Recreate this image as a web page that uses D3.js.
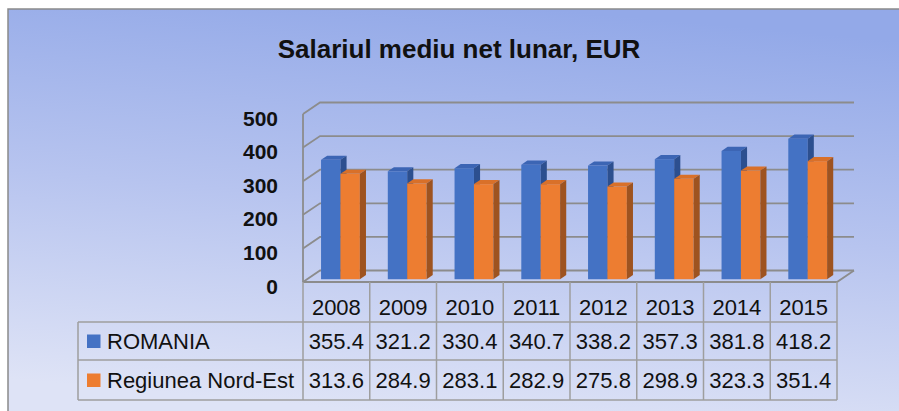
<!DOCTYPE html>
<html>
<head>
<meta charset="utf-8">
<script src="https://cdnjs.cloudflare.com/ajax/libs/d3/7.8.5/d3.min.js"></script>
<style>
body {
    margin: 0;
    background: #fff;
}
svg text {
    font-family: "Liberation Sans", Arial, sans-serif;
    fill: #111;
}
</style>
</head>
<body>
<svg id="chart"></svg>
<script>

const years = ['2008', '2009', '2010', '2011', '2012', '2013', '2014', '2015'];
const romania = [355.4, 321.2, 330.4, 340.7, 338.2, 357.3, 381.8, 418.2];
const nordEst = [313.6, 284.9, 283.1, 282.9, 275.8, 298.9, 323.3, 351.4];
const seriesNames = ['ROMANIA', 'Regiunea Nord-Est'];
const yTicks = [0, 100, 200, 300, 400, 500];

const W = 899, H = 411;
const DX = 17, DY = -11.5;          // depth of the 3d box
const F0 = 0.24, F1 = 0.60;         // bar depth position inside the box

const colors = [
    { front: '#4472C4', top: '#3C65B4', side: '#2C4F8F' },
    { front: '#ED7D31', top: '#D97029', side: '#9E5320' }
];

const svg = d3.select('svg#chart')
    .attr('width', W)
    .attr('height', H);

const defs = svg.append('defs');
const grad = defs.append('linearGradient')
    .attr('id', 'bg')
    .attr('x1', 0.6).attr('y1', 0).attr('x2', 0.4).attr('y2', 1);
grad.append('stop').attr('offset', '0%').attr('stop-color', '#93A9E8');
grad.append('stop').attr('offset', '50%').attr('stop-color', '#B7C4EF');
grad.append('stop').attr('offset', '100%').attr('stop-color', '#DEE3F6');

// chart area
svg.append('rect')
    .attr('x', 8).attr('y', 9)
    .attr('width', W - 8).attr('height', H - 9)
    .attr('fill', 'url(#bg)');
svg.append('path')
    .attr('d', `M8,${H} L8,9 L${W},9`)
    .attr('fill', 'none')
    .attr('stroke', '#8a8a8a')
    .attr('stroke-width', 1.5);

svg.append('text')
    .attr('x', 459).attr('y', 58)
    .attr('text-anchor', 'middle')
    .attr('font-size', 26)
    .attr('font-weight', 'bold')
    .text('Salariul mediu net lunar, EUR');

// scales
const x = d3.scaleBand().domain(years).range([303, 837]);
const inner = d3.scaleBand().domain([0, 1]).range([0, x.bandwidth()]).paddingOuter(0.72);
const y = d3.scaleLinear().domain([0, 500]).range([282, 114]);

const gridG = svg.append('g')
    .attr('fill', 'none')
    .attr('stroke', '#8c8c8c')
    .attr('stroke-width', 1.8);

const x0 = x.range()[0], x1 = x.range()[1];

// back wall gridlines + left wall diagonals
yTicks.forEach(t => {
    gridG.append('path')
        .attr('d', `M${x0},${y(t)} L${x0 + DX},${y(t) + DY} L${x1 + DX},${y(t) + DY}`);
});
// front vertical axis
gridG.append('line')
    .attr('x1', x0).attr('y1', y(0))
    .attr('x2', x0).attr('y2', y(500));
// floor front and right edges
gridG.append('path')
    .attr('d', `M${x0},${y(0)} L${x1},${y(0)} L${x1 + DX},${y(0) + DY}`);

// y axis labels
svg.append('g').selectAll('text')
    .data(yTicks)
    .join('text')
    .attr('x', 278)
    .attr('y', d => y(d) + 4)
    .attr('dy', '0.36em')
    .attr('text-anchor', 'end')
    .attr('font-size', 21)
    .attr('font-weight', 'bold')
    .text(d => d);

// bars
const seriesData = [romania, nordEst];
const dx = DX * (F1 - F0), dy = DY * (F1 - F0);
const barsG = svg.append('g');

years.forEach((yr, i) => {
    seriesData.forEach((vals, s) => {
        const v = vals[i];
        const w = inner.bandwidth();
        const bx = x(yr) + inner(s) + DX * F0;
        const yt = y(v) + DY * F0;
        const yb = y(0) + DY * F0;
        const c = colors[s];
        const g = barsG.append('g');
        g.append('rect')
            .attr('x', bx).attr('y', yt)
            .attr('width', w).attr('height', yb - yt)
            .attr('fill', c.front);
        g.append('path')
            .attr('d', `M${bx},${yt} L${bx + w},${yt} L${bx + w + dx},${yt + dy} L${bx + dx},${yt + dy} Z`)
            .attr('fill', c.top);
        g.append('path')
            .attr('d', `M${bx + w},${yt} L${bx + w + dx},${yt + dy} L${bx + w + dx},${yb + dy} L${bx + w},${yb} Z`)
            .attr('fill', c.side);
    });
});

// data table
const tableLeft = 78;
const rowY = [282, 322, 360, 400];
const tableG = svg.append('g')
    .attr('stroke', '#9e9e9e')
    .attr('stroke-width', 1.5)
    .attr('fill', 'none');

rowY.slice(1).forEach(ry => {
    tableG.append('line')
        .attr('x1', tableLeft).attr('x2', x1)
        .attr('y1', ry).attr('y2', ry);
});
tableG.append('line')
    .attr('x1', tableLeft).attr('x2', tableLeft)
    .attr('y1', rowY[1]).attr('y2', rowY[3]);
years.concat(['end']).forEach((yr, i) => {
    const lx = i < years.length ? x(yr) : x1;
    tableG.append('line')
        .attr('x1', lx).attr('x2', lx)
        .attr('y1', rowY[0]).attr('y2', rowY[3]);
});

// header row
svg.append('g').selectAll('text')
    .data(years)
    .join('text')
    .attr('x', d => x(d) + x.bandwidth() / 2)
    .attr('y', 315)
    .attr('text-anchor', 'middle')
    .attr('font-size', 22)
    .text(d => d);

// series rows
seriesData.forEach((vals, s) => {
    const top = rowY[s + 1], bot = rowY[s + 2];
    const mid = (top + bot) / 2;
    svg.append('rect')
        .attr('x', 87).attr('y', mid - 6.5)
        .attr('width', 13.5).attr('height', 13.5)
        .attr('fill', colors[s].front);
    svg.append('text')
        .attr('x', 107).attr('y', mid + 8)
        .attr('font-size', 22)
        .text(seriesNames[s]);
    svg.append('g').selectAll('text')
        .data(vals)
        .join('text')
        .attr('x', (d, i) => x(years[i]) + x.bandwidth() / 2)
        .attr('y', mid + 8)
        .attr('text-anchor', 'middle')
        .attr('font-size', 22)
        .text(d => d.toFixed(1));
});
</script>
</body>
</html>
